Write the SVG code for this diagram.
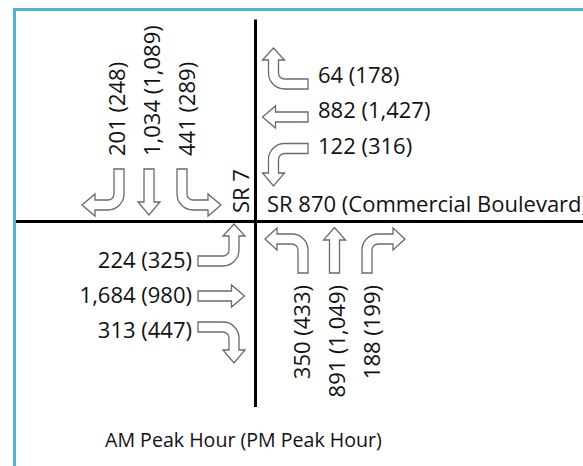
<svg xmlns="http://www.w3.org/2000/svg" width="583" height="466" viewBox="0 0 583 466">
<style>
  .arr { fill: #ffffff; stroke: #6a6a6a; stroke-width: 1.3; stroke-linejoin: miter; }
  .lbl { font-family: "Open Sans", "Noto Sans", "DejaVu Sans", sans-serif; font-size: 22px; fill: #111111; }
  .cap { font-family: "Open Sans", "Noto Sans", "DejaVu Sans", sans-serif; font-size: 19.6px; fill: #111111; }
  .road { stroke: #000000; stroke-width: 3; fill: none; }
</style>
<rect x="0" y="0" width="583" height="466" fill="#ffffff"/>
<rect id="frame" x="14.5" y="9.5" width="600" height="480" fill="none" stroke="#4fb4d4" stroke-width="3"/>

<g id="connectors">
  <line class="road" x1="255.5" y1="19.5" x2="255.5" y2="407"/>
  <line class="road" x1="16" y1="221.5" x2="583" y2="221.5"/>
</g>

<g id="sb-left">
  <path class="arr" d="M114,169 H124 V194 A16,16 0 0 1 108,210 H95 V216 L82,205 L95,194 V200 H108 A6,6 0 0 0 114,194 Z"/>
  <text class="lbl" transform="translate(124.5,156) rotate(-90)">201 (248)</text>
</g>
<g id="sb-through">
  <path class="arr" d="M144,169 H154 V202 H160 L149,215 L138,202 H144 Z"/>
  <text class="lbl" transform="translate(160,156) rotate(-90)">1,034 (1,089)</text>
</g>
<g id="sb-right">
  <path class="arr" d="M177,169 H187 V194 A6,6 0 0 0 193,200 H208 V194 L221,205 L208,216 V210 H193 A16,16 0 0 1 177,194 Z"/>
  <text class="lbl" transform="translate(194.5,156) rotate(-90)">441 (289)</text>
</g>
<g id="sr7-label">
  <text class="lbl" transform="translate(249,213) rotate(-90)">SR 7</text>
</g>

<g id="wb-right">
  <path class="arr" d="M308,79 V89 H284.5 A16,16 0 0 1 268.5,73 V60 H262.5 L273.5,48 L284.5,60 H278.5 V73 A6,6 0 0 0 284.5,79 Z"/>
  <text class="lbl" x="318" y="83">64 (178)</text>
</g>
<g id="wb-through">
  <path class="arr" d="M308,112 V122 H275.5 V128 L262.5,117 L275.5,106 V112 Z"/>
  <text class="lbl" x="318" y="118">882 (1,427)</text>
</g>
<g id="wb-left">
  <path class="arr" d="M308,143.5 V153.5 H284.5 A6,6 0 0 0 278.5,159.5 V173 H284.5 L273.5,186 L262.5,173 H268.5 V159.5 A16,16 0 0 1 284.5,143.5 Z"/>
  <text class="lbl" x="318" y="154">122 (316)</text>
</g>
<g id="sr870-label">
  <text class="lbl" x="267" y="211.5">SR 870 (Commercial Boulevard)</text>
</g>

<g id="eb-left">
  <path class="arr" d="M198,256 H223 A6,6 0 0 0 229,250 V236 H223 L234,224 L245,236 H239 V250 A16,16 0 0 1 223,266 H198 Z"/>
  <text class="lbl" x="192" y="268.3" text-anchor="end">224 (325)</text>
</g>
<g id="eb-through">
  <path class="arr" d="M198,291 H231.5 V285 L244.5,296 L231.5,307 V301 H198 Z"/>
  <text class="lbl" x="192" y="303.3" text-anchor="end">1,684 (980)</text>
</g>
<g id="eb-right">
  <path class="arr" d="M198,322 H223 A16,16 0 0 1 239,338 V350 H245 L234,363 L223,350 H229 V338 A6,6 0 0 0 223,332 H198 Z"/>
  <text class="lbl" x="192" y="338.3" text-anchor="end">313 (447)</text>
</g>

<g id="nb-left">
  <path class="arr" d="M308,273 H298 V250 A6,6 0 0 0 292,244 H277 V250 L265,239 L277,228 V234 H292 A16,16 0 0 1 308,250 Z"/>
  <text class="lbl" transform="translate(310,285) rotate(-90)" text-anchor="end">350 (433)</text>
</g>
<g id="nb-through">
  <path class="arr" d="M329.5,273 V240 H323.5 L334.5,227.5 L345.5,240 H339.5 V273 Z"/>
  <text class="lbl" transform="translate(345,285) rotate(-90)" text-anchor="end">891 (1,049)</text>
</g>
<g id="nb-right">
  <path class="arr" d="M362,273 V250 A16,16 0 0 1 378,234 H393 V228 L405,239 L393,250 V244 H378 A6,6 0 0 0 372,250 V273 Z"/>
  <text class="lbl" transform="translate(379.5,285) rotate(-90)" text-anchor="end">188 (199)</text>
</g>

<g id="caption">
  <text class="cap" x="105" y="446.7">AM Peak Hour (PM Peak Hour)</text>
</g>
</svg>
